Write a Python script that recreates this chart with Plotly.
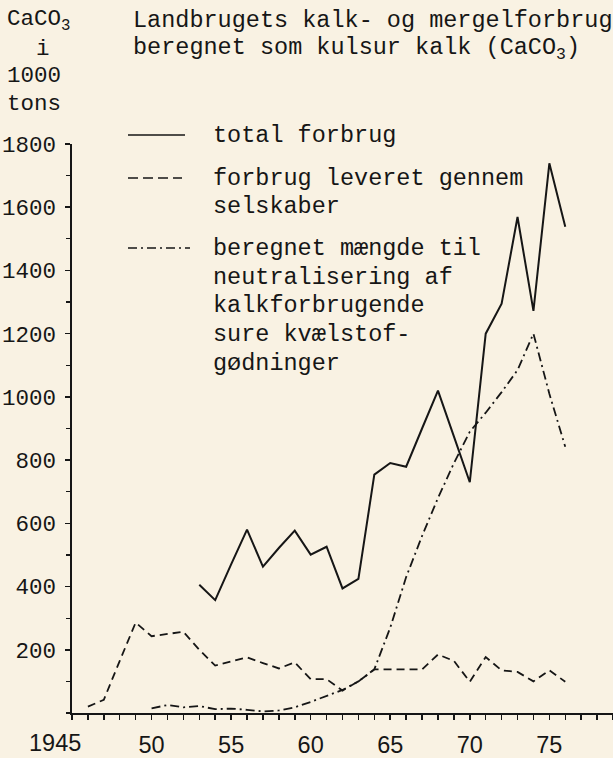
import plotly.graph_objects as go

# ---------------- data (1000 t CaCO3) ----------------
years_total = list(range(1953, 1977))
total_use = [406, 357, 470, 580, 463, 522, 577, 501, 526, 394, 424, 754,
             791, 779, 900, 1020, 875, 730, 1200, 1295, 1569, 1272, 1739, 1538]

years_companies = list(range(1946, 1977))
companies_use = [20, 42, 165, 286, 243, 250, 257, 200, 150, 163, 176, 158,
                 141, 160, 107, 107, 71, 100, 138, 138, 138, 138, 185, 165,
                 99, 177, 135, 130, 100, 135, 99]

years_neutral = list(range(1950, 1977))
neutral_need = [15, 25, 18, 22, 12, 14, 10, 5, 8, 18, 35, 55, 73, 100, 138,
                270, 430, 560, 680, 790, 890, 950, 1015, 1085, 1200, 1010, 842]

x_tick_vals = [1950, 1955, 1960, 1965, 1970, 1975]
x_tick_text = ["50", "55", "60", "65", "70", "75"]
y_tick_vals = [200, 400, 600, 800, 1000, 1200, 1400, 1600, 1800]
y_tick_text = [str(v) for v in y_tick_vals]

legend_labels = [
    ["total forbrug"],
    ["forbrug leveret gennem", "selskaber"],
    ["beregnet mængde til", "neutralisering af", "kalkforbrugende",
     "sure kvælstof-", "gødninger"],
]
title_lines = ["Landbrugets kalk- og mergelforbrug",
               "beregnet som kulsur kalk (CaCO<sub>3</sub>)"]
unit_lines = ["CaCO<sub>3</sub>", "i", "1000", "tons"]

# ---------------- styling ----------------
W, H = 613, 758
ML, MR, MT, MB = 72, 0, 144, 45
PW, PH = W - ML - MR, H - MT - MB
BG = "#f9f2e3"
INK = "#161616"
MONO = "Liberation Mono, Courier New, monospace"
SANS = "Liberation Sans, Arial, sans-serif"

DASH = "8px,5px"
DASHDOT = "9px,4px,2px,4px"


def px(x):
    return (x - ML) / PW


def py(y):
    return (H - MB - y) / PH


fig = go.Figure()
fig.add_trace(go.Scatter(x=years_total, y=total_use, mode="lines",
                         line=dict(color=INK, width=2), name="total forbrug"))
fig.add_trace(go.Scatter(x=years_companies, y=companies_use, mode="lines",
                         line=dict(color=INK, width=1.8, dash=DASH),
                         name="forbrug leveret gennem selskaber"))
fig.add_trace(go.Scatter(x=years_neutral, y=neutral_need, mode="lines",
                         line=dict(color=INK, width=1.8, dash=DASHDOT),
                         name="beregnet mængde til neutralisering"))

annotations = []
shapes = []


def text(x, y, s, size=23.5, font=MONO, anchor="left"):
    annotations.append(dict(x=px(x), y=py(y), xref="paper", yref="paper",
                            text=s, showarrow=False, xanchor=anchor,
                            yanchor="middle", borderpad=0,
                            font=dict(family=font, size=size, color=INK)))


# title lines
for i, s in enumerate(title_lines):
    text(132, 21 + 28 * i, s)

# unit label top-left
unit_pos = [(6, 20, "left"), (43, 49, "center"), (6, 76, "left"), (6, 104, "left")]
for s, (x, y, a) in zip(unit_lines, unit_pos):
    text(x, y, s, size=22.5, anchor=a)

# legend (samples + text)
legend_rows = [[135], [178, 206], [248, 277, 305, 334, 363]]
sample_dash = ["solid", "10px,5px", DASHDOT]
sample_end = [185, 182, 190]
for lines, rows, dsh, x1 in zip(legend_labels, legend_rows, sample_dash, sample_end):
    shapes.append(dict(type="line", xref="paper", yref="paper",
                       x0=px(128), x1=px(x1), y0=py(rows[0]), y1=py(rows[0]),
                       line=dict(color=INK, width=1.6, dash=dsh)))
    for s, y in zip(lines, rows):
        text(212, y, s)

# first x label sits left of the axis corner
annotations.append(dict(x=1945, y=0, xref="x", yref="y", text="1945",
                        showarrow=False, xanchor="center", yanchor="middle",
                        xshift=-17, yshift=-30,
                        font=dict(family=SANS, size=23.5, color=INK)))

fig.update_layout(
    width=W, height=H,
    margin=dict(l=ML, r=MR, t=MT, b=MB, pad=0),
    paper_bgcolor=BG, plot_bgcolor=BG,
    showlegend=False,
    annotations=annotations,
    shapes=shapes,
    xaxis=dict(range=[1945, 1979], tickmode="array", tickvals=x_tick_vals,
               ticktext=x_tick_text, showgrid=False, zeroline=False,
               showline=True, linecolor=INK, linewidth=2,
               ticks="outside", ticklen=5, tickwidth=1.5, tickcolor=INK,
               ticklabelstandoff=5,
               tickfont=dict(family=SANS, size=23.5, color=INK),
               minor=dict(tickmode="linear", tick0=1945, dtick=1,
                          ticks="outside", ticklen=5, tickwidth=1.5,
                          tickcolor=INK, showgrid=False)),
    yaxis=dict(range=[0, 1800], tickmode="array", tickvals=y_tick_vals,
               ticktext=y_tick_text, showgrid=False, zeroline=False,
               showline=True, linecolor=INK, linewidth=2.5,
               ticks="outside", ticklen=5, tickwidth=1.5, tickcolor=INK,
               ticklabelstandoff=4,
               tickfont=dict(family=MONO, size=22.5, color=INK),
               minor=dict(tickmode="linear", tick0=0, dtick=100,
                          ticks="outside", ticklen=4, tickwidth=1.3,
                          tickcolor=INK, showgrid=False)),
)

post = ("document.documentElement.style.margin='0';"
        "document.body.style.margin='0';"
        "document.body.style.overflow='hidden';"
        "document.body.style.background='" + BG + "';")
fig.write_html("out.html", post_script=post,
               config={"displayModeBar": False, "staticPlot": True})
